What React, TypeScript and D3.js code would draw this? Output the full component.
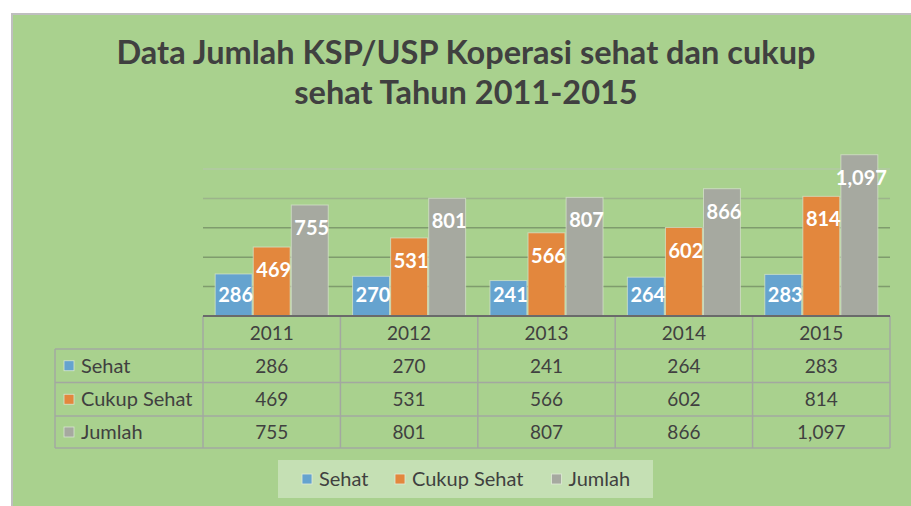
import React from "react";
import * as d3 from "d3";

const years = ["2011", "2012", "2013", "2014", "2015"];
const seriesNames = ["Sehat", "Cukup Sehat", "Jumlah"];
const sehat = [286, 270, 241, 264, 283];
const cukupSehat = [469, 531, 566, 602, 814];
const jumlah = [755, 801, 807, 866, 1097];
const seriesColors = ["#65a3cf", "#e3873d", "#a6a9a0"];
const gridValues = [200, 400, 600, 800, 1000];
const titleLines = ["Data Jumlah KSP/USP Koperasi sehat dan cukup", "sehat Tahun 2011-2015"];

const W = 911;
const H = 506;
const FONT = "Lato, 'Open Sans', sans-serif";
const TEXT = "#404040";

export default function App() {
  const series = [sehat, cukupSehat, jumlah];
  const fmt = d3.format(",");

  const x = d3.scaleBand<string>().domain(years).range([203, 890]).paddingInner(0).paddingOuter(0);
  const xs = d3
    .scaleBand<string>()
    .domain(seriesNames)
    .range([0, x.bandwidth()])
    .paddingInner(0.03)
    .paddingOuter(0.32);
  const y = d3.scaleLinear().domain([0, 1200]).range([316, 139.6]);

  const rowTop = [316, 349, 382.5, 416, 448];
  const gridColor = (v: number) => (v === 1000 ? "#b3c9a4" : v === 800 ? "#9cb48b" : "#7f9c6d");

  return (
    <svg
      width={W}
      height={H}
      style={{ position: "absolute", left: 0, top: 0, display: "block" }}
      fontFamily={FONT}
    >
      <rect x={0} y={0} width={W} height={H} fill="#ffffff" />
      <rect x={11} y={13} width={W - 11} height={H - 13} fill="#bfbfbf" />
      <rect x={13} y={15} width={W - 13} height={H - 15} fill="#a9d18e" />

      {/* title */}
      {titleLines.map((t, i) => (
        <text
          key={i}
          x={466}
          y={64 + i * 40}
          textAnchor="middle"
          fontSize={32.5}
          fontWeight="bold"
          fill={TEXT}
        >
          {t}
        </text>
      ))}

      {/* gridlines */}
      {gridValues.map((v) => (
        <line key={v} x1={203} x2={890} y1={y(v)} y2={y(v)} stroke={gridColor(v)} strokeWidth={1.5} />
      ))}

      {/* bars */}
      {years.map((yr, i) => (
        <g key={yr} transform={`translate(${x(yr)},0)`}>
          {seriesNames.map((s, j) => {
            const v = series[j][i];
            const bx = xs(s) as number;
            const top = y(v);
            return (
              <rect
                key={s}
                x={bx}
                y={top}
                width={xs.bandwidth()}
                height={y(0) - top}
                fill={seriesColors[j]}
                stroke="#d8e6cf"
                strokeOpacity={0.7}
                strokeWidth={1}
              />
            );
          })}
          {seriesNames.map((s, j) => {
            const v = series[j][i];
            const bx = (xs(s) as number) + xs.bandwidth() / 2;
            const top = y(v);
            return (
              <text
                key={s}
                x={bx + 2}
                y={Math.min(top + 30, y(0) - 14)}
                textAnchor="middle"
                fontSize={20}
                fontWeight="bold"
                fill="#ffffff"
              >
                {fmt(v)}
              </text>
            );
          })}
        </g>
      ))}

      {/* data table */}
      {rowTop.slice(1).map((ry) => (
        <line key={ry} x1={55} x2={890} y1={ry} y2={ry} stroke="#a3a8a0" strokeWidth={1.5} />
      ))}
      <line x1={55} x2={55} y1={349} y2={448} stroke="#a3a8a0" strokeWidth={1.5} />
      {[...years.map((yr) => x(yr) as number), 890].map((vx, i) => (
        <line key={i} x1={vx} x2={vx} y1={316} y2={448} stroke="#a3a8a0" strokeWidth={1.5} />
      ))}
      <line x1={203} x2={890} y1={316} y2={316} stroke="#6a6a6a" strokeWidth={2} />

      {years.map((yr) => (
        <text
          key={yr}
          x={(x(yr) as number) + x.bandwidth() / 2}
          y={(rowTop[0] + rowTop[1]) / 2 + 7}
          textAnchor="middle"
          fontSize={19}
          fill={TEXT}
        >
          {yr}
        </text>
      ))}
      {seriesNames.map((s, j) => {
        const cy = (rowTop[j + 1] + rowTop[j + 2]) / 2;
        return (
          <g key={s}>
            <rect x={64} y={cy - 5} width={10} height={10} fill={seriesColors[j]} stroke="#d8e6cf" strokeWidth={0.8} />
            <text x={81} y={cy + 7} fontSize={20} fill={TEXT}>
              {s}
            </text>
            {years.map((yr, i) => (
              <text
                key={yr}
                x={(x(yr) as number) + x.bandwidth() / 2}
                y={cy + 7}
                textAnchor="middle"
                fontSize={19}
                fill={TEXT}
              >
                {fmt(series[j][i])}
              </text>
            ))}
          </g>
        );
      })}

      {/* legend */}
      <rect x={278} y={460} width={375} height={38} fill="#c5e0b4" />
      {seriesNames.map((s, j) => {
        const lx = [302, 395, 551.5][j];
        return (
          <g key={s}>
            <rect x={lx} y={474} width={10} height={10} fill={seriesColors[j]} stroke="#e0ecd8" strokeWidth={0.8} />
            <text x={lx + 17} y={486} fontSize={20} fill={TEXT}>
              {s}
            </text>
          </g>
        );
      })}
    </svg>
  );
}
